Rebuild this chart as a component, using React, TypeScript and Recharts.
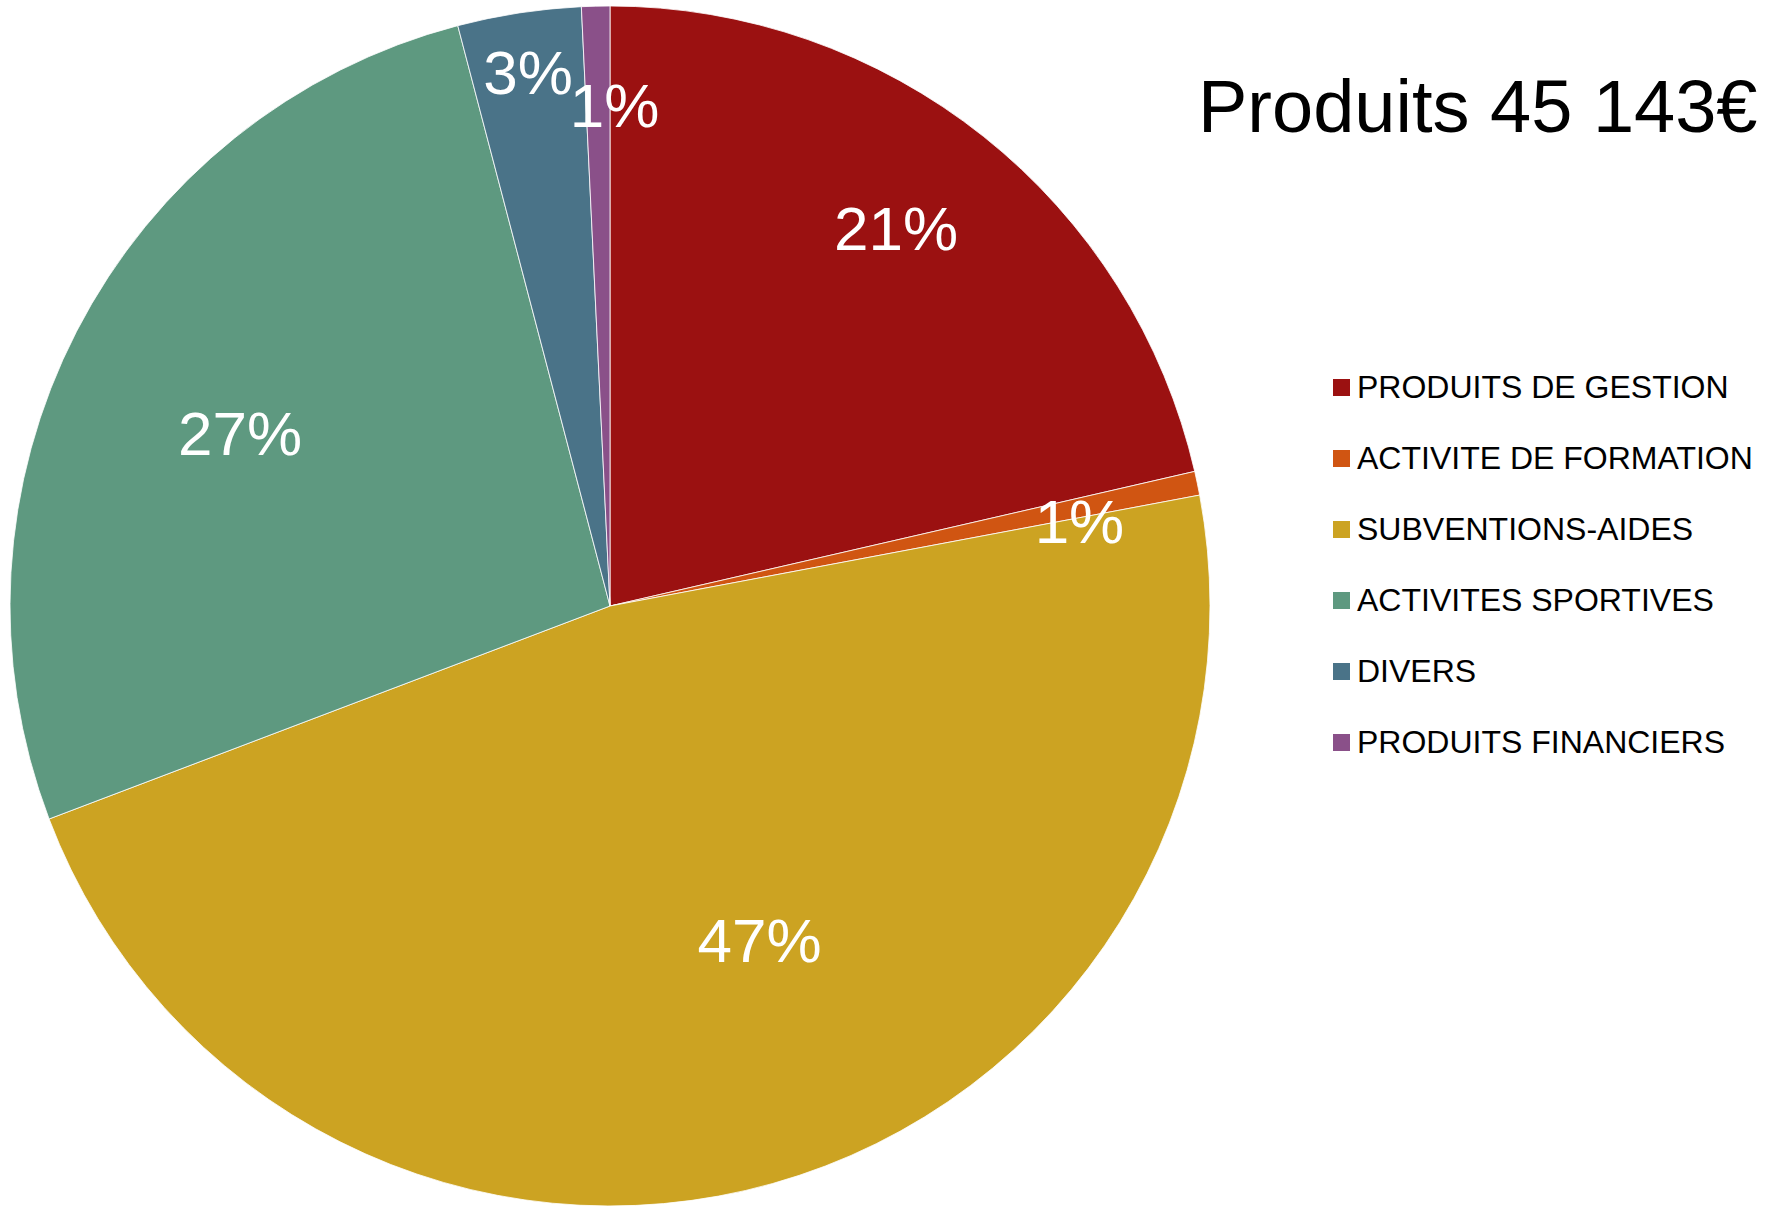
import { Legend, Pie, PieChart, Cell } from "recharts";

const categories = [
  "PRODUITS DE GESTION",
  "ACTIVITE DE FORMATION",
  "SUBVENTIONS-AIDES",
  "ACTIVITES SPORTIVES",
  "DIVERS",
  "PRODUITS FINANCIERS",
];

// montants en euros (total 45 143 €)
const amounts = [9660, 290, 21300, 12050, 1500, 343];

const colors = ["#9b1111", "#d05512", "#cca322", "#5e9980", "#4a7388", "#8a5089"];

// placement of the percentage labels: fraction of radius, angle shift (deg, clockwise)
const labelRadius = [0.79, 0.795, 0.61, 0.68, 0.9, 0.835];
const labelShift = [-1.4, 1.6, -8.4, -2.3, 0, 1.9];

const title = "Produits 45 143€";

const FONT = '"Liberation Sans", Arial, Helvetica, sans-serif';
const RAD = Math.PI / 180;

const data = categories.map((name, i) => ({ name, value: amounts[i] }));

function renderLabel(props: any) {
  const { cx, cy, midAngle, outerRadius, percent, index } = props;
  const a = (midAngle - labelShift[index]) * RAD;
  const r = outerRadius * labelRadius[index];
  const x = cx + r * Math.cos(a);
  const y = cy - r * Math.sin(a);
  return (
    <text
      x={x}
      y={y}
      fill="#ffffff"
      textAnchor="middle"
      dominantBaseline="central"
      fontSize={62}
      fontFamily={FONT}
    >
      {`${Math.round(percent * 100)}%`}
    </text>
  );
}

function LegendContent() {
  return (
    <div style={{ fontFamily: FONT }}>
      {categories.map((c, i) => (
        <div
          key={c}
          style={{ height: 71, display: "flex", alignItems: "center" }}
        >
          <span
            style={{
              width: 17,
              height: 17,
              background: colors[i],
              display: "inline-block",
              marginRight: 7,
            }}
          />
          <span style={{ fontSize: 32, color: "#000", whiteSpace: "nowrap" }}>
            {c}
          </span>
        </div>
      ))}
    </div>
  );
}

export default function App() {
  return (
    <div
      style={{
        position: "absolute",
        left: 0,
        top: 0,
        width: 1767,
        height: 1210,
        background: "#ffffff",
      }}
    >
      <PieChart
        width={1767}
        height={1210}
        margin={{ top: 0, right: 0, bottom: 0, left: 0 }}
      >
        <Pie
          data={data}
          dataKey="value"
          nameKey="name"
          cx={610}
          cy={606}
          outerRadius={600}
          startAngle={90}
          endAngle={-270}
          stroke="#ffffff"
          strokeWidth={0.8}
          label={renderLabel}
          labelLine={false}
          isAnimationActive={false}
        >
          {data.map((d, i) => (
            <Cell key={d.name} fill={colors[i]} />
          ))}
        </Pie>
        <Legend
          layout="vertical"
          content={<LegendContent />}
          wrapperStyle={{ left: 1333, top: 352, width: 430 }}
        />
      </PieChart>
      <div
        style={{
          position: "absolute",
          left: 1198,
          top: 70,
          fontSize: 74,
          lineHeight: 1,
          fontFamily: FONT,
          color: "#000",
          whiteSpace: "nowrap",
        }}
      >
        {title}
      </div>
    </div>
  );
}
